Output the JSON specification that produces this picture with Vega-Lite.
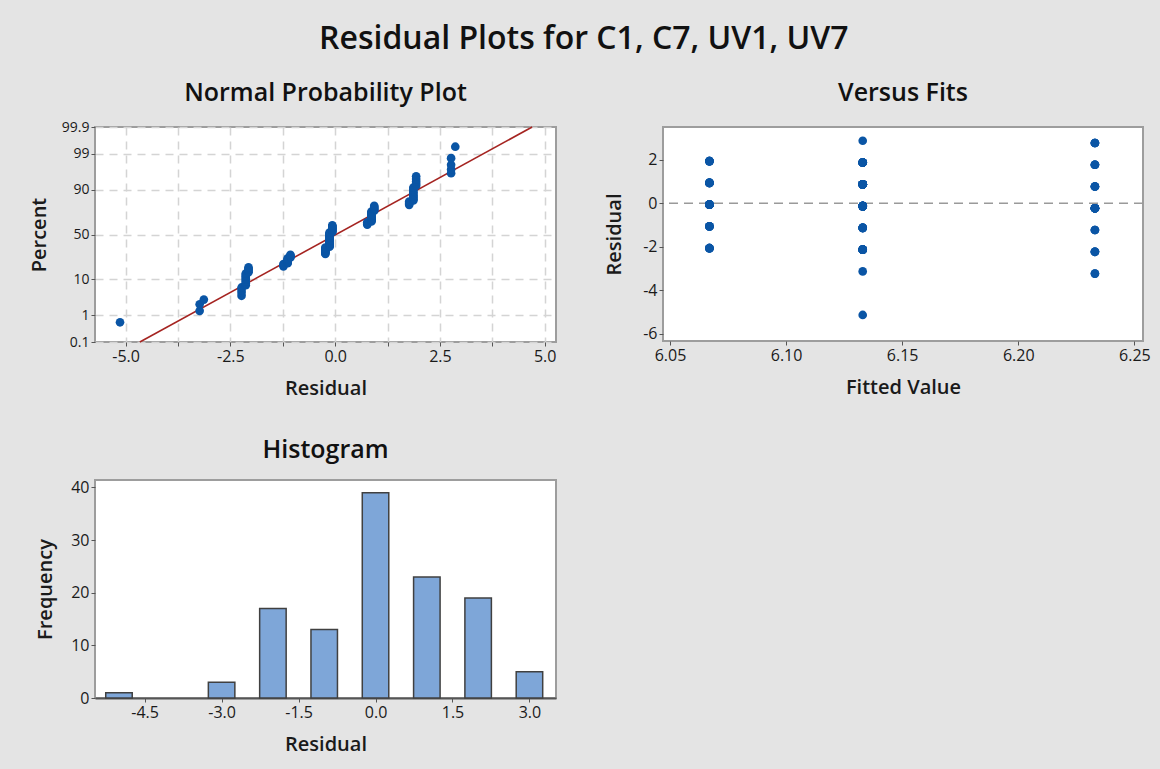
{
  "$schema": "https://vega.github.io/schema/vega-lite/v6.json",
  "background": "#e4e4e4",
  "padding": {"left": 28, "top": 23, "right": 12, "bottom": 15},
  "title": {"text": "Residual Plots for C1, C7, UV1, UV7", "fontSize": 32, "font": "Open Sans", "fontWeight": 600, "color": "#111111", "anchor": "middle", "offset": 24, "dx": -6},
  "config": {
    "font": "Open Sans",
    "locale": {"number": {"decimal": ".", "thousands": ",", "grouping": [3], "currency": ["$", ""], "minus": "-"}},
    "view": {"stroke": "#9d9d9d", "strokeWidth": 2, "fill": "white"},
    "axis": {"domain": false, "grid": false, "labelFont": "Open Sans", "labelFontSize": 16, "labelColor": "#1a1a1a", "labelOverlap": false, "titleFont": "Open Sans", "titleFontSize": 20, "titleFontWeight": 600, "titleColor": "#1a1a1a", "tickColor": "#555555", "tickSize": 4, "labelPadding": 2, "titlePadding": 14}
  },
  "datasets": {
    "npp": [
      {"r": -5.133, "p": 0.58, "f": 6.133},
      {"r": -3.233, "p": 1.41, "f": 6.233},
      {"r": -3.233, "p": 2.24, "f": 6.233},
      {"r": -3.133, "p": 3.07, "f": 6.133},
      {"r": -2.233, "p": 3.90, "f": 6.233},
      {"r": -2.233, "p": 4.73, "f": 6.233},
      {"r": -2.233, "p": 5.56, "f": 6.233},
      {"r": -2.233, "p": 6.40, "f": 6.233},
      {"r": -2.133, "p": 7.23, "f": 6.133},
      {"r": -2.133, "p": 8.06, "f": 6.133},
      {"r": -2.133, "p": 8.89, "f": 6.133},
      {"r": -2.133, "p": 9.72, "f": 6.133},
      {"r": -2.133, "p": 10.55, "f": 6.133},
      {"r": -2.133, "p": 11.38, "f": 6.133},
      {"r": -2.133, "p": 12.21, "f": 6.133},
      {"r": -2.133, "p": 13.04, "f": 6.133},
      {"r": -2.067, "p": 13.87, "f": 6.067},
      {"r": -2.067, "p": 14.70, "f": 6.067},
      {"r": -2.067, "p": 15.53, "f": 6.067},
      {"r": -2.067, "p": 16.36, "f": 6.067},
      {"r": -2.067, "p": 17.19, "f": 6.067},
      {"r": -1.233, "p": 18.02, "f": 6.233},
      {"r": -1.233, "p": 18.85, "f": 6.233},
      {"r": -1.233, "p": 19.68, "f": 6.233},
      {"r": -1.133, "p": 20.51, "f": 6.133},
      {"r": -1.133, "p": 21.35, "f": 6.133},
      {"r": -1.133, "p": 22.18, "f": 6.133},
      {"r": -1.133, "p": 23.01, "f": 6.133},
      {"r": -1.133, "p": 23.84, "f": 6.133},
      {"r": -1.133, "p": 24.67, "f": 6.133},
      {"r": -1.067, "p": 25.50, "f": 6.067},
      {"r": -1.067, "p": 26.33, "f": 6.067},
      {"r": -1.067, "p": 27.16, "f": 6.067},
      {"r": -1.067, "p": 27.99, "f": 6.067},
      {"r": -0.233, "p": 28.82, "f": 6.233},
      {"r": -0.233, "p": 29.65, "f": 6.233},
      {"r": -0.233, "p": 30.48, "f": 6.233},
      {"r": -0.233, "p": 31.31, "f": 6.233},
      {"r": -0.233, "p": 32.14, "f": 6.233},
      {"r": -0.233, "p": 32.97, "f": 6.233},
      {"r": -0.233, "p": 33.80, "f": 6.233},
      {"r": -0.233, "p": 34.63, "f": 6.233},
      {"r": -0.233, "p": 35.47, "f": 6.233},
      {"r": -0.133, "p": 36.30, "f": 6.133},
      {"r": -0.133, "p": 37.13, "f": 6.133},
      {"r": -0.133, "p": 37.96, "f": 6.133},
      {"r": -0.133, "p": 38.79, "f": 6.133},
      {"r": -0.133, "p": 39.62, "f": 6.133},
      {"r": -0.133, "p": 40.45, "f": 6.133},
      {"r": -0.133, "p": 41.28, "f": 6.133},
      {"r": -0.133, "p": 42.11, "f": 6.133},
      {"r": -0.133, "p": 42.94, "f": 6.133},
      {"r": -0.133, "p": 43.77, "f": 6.133},
      {"r": -0.133, "p": 44.60, "f": 6.133},
      {"r": -0.133, "p": 45.43, "f": 6.133},
      {"r": -0.133, "p": 46.26, "f": 6.133},
      {"r": -0.133, "p": 47.09, "f": 6.133},
      {"r": -0.133, "p": 47.92, "f": 6.133},
      {"r": -0.133, "p": 48.75, "f": 6.133},
      {"r": -0.133, "p": 49.58, "f": 6.133},
      {"r": -0.133, "p": 50.42, "f": 6.133},
      {"r": -0.133, "p": 51.25, "f": 6.133},
      {"r": -0.133, "p": 52.08, "f": 6.133},
      {"r": -0.067, "p": 52.91, "f": 6.067},
      {"r": -0.067, "p": 53.74, "f": 6.067},
      {"r": -0.067, "p": 54.57, "f": 6.067},
      {"r": -0.067, "p": 55.40, "f": 6.067},
      {"r": -0.067, "p": 56.23, "f": 6.067},
      {"r": -0.067, "p": 57.06, "f": 6.067},
      {"r": -0.067, "p": 57.89, "f": 6.067},
      {"r": -0.067, "p": 58.72, "f": 6.067},
      {"r": -0.067, "p": 59.55, "f": 6.067},
      {"r": -0.067, "p": 60.38, "f": 6.067},
      {"r": 0.767, "p": 61.21, "f": 6.233},
      {"r": 0.767, "p": 62.04, "f": 6.233},
      {"r": 0.767, "p": 62.87, "f": 6.233},
      {"r": 0.767, "p": 63.70, "f": 6.233},
      {"r": 0.867, "p": 64.53, "f": 6.133},
      {"r": 0.867, "p": 65.37, "f": 6.133},
      {"r": 0.867, "p": 66.20, "f": 6.133},
      {"r": 0.867, "p": 67.03, "f": 6.133},
      {"r": 0.867, "p": 67.86, "f": 6.133},
      {"r": 0.867, "p": 68.69, "f": 6.133},
      {"r": 0.867, "p": 69.52, "f": 6.133},
      {"r": 0.867, "p": 70.35, "f": 6.133},
      {"r": 0.867, "p": 71.18, "f": 6.133},
      {"r": 0.867, "p": 72.01, "f": 6.133},
      {"r": 0.867, "p": 72.84, "f": 6.133},
      {"r": 0.867, "p": 73.67, "f": 6.133},
      {"r": 0.867, "p": 74.50, "f": 6.133},
      {"r": 0.933, "p": 75.33, "f": 6.067},
      {"r": 0.933, "p": 76.16, "f": 6.067},
      {"r": 0.933, "p": 76.99, "f": 6.067},
      {"r": 0.933, "p": 77.82, "f": 6.067},
      {"r": 0.933, "p": 78.65, "f": 6.067},
      {"r": 0.933, "p": 79.49, "f": 6.067},
      {"r": 1.767, "p": 80.32, "f": 6.233},
      {"r": 1.767, "p": 81.15, "f": 6.233},
      {"r": 1.767, "p": 81.98, "f": 6.233},
      {"r": 1.767, "p": 82.81, "f": 6.233},
      {"r": 1.867, "p": 83.64, "f": 6.133},
      {"r": 1.867, "p": 84.47, "f": 6.133},
      {"r": 1.867, "p": 85.30, "f": 6.133},
      {"r": 1.867, "p": 86.13, "f": 6.133},
      {"r": 1.867, "p": 86.96, "f": 6.133},
      {"r": 1.867, "p": 87.79, "f": 6.133},
      {"r": 1.867, "p": 88.62, "f": 6.133},
      {"r": 1.867, "p": 89.45, "f": 6.133},
      {"r": 1.867, "p": 90.28, "f": 6.133},
      {"r": 1.867, "p": 91.11, "f": 6.133},
      {"r": 1.933, "p": 91.94, "f": 6.067},
      {"r": 1.933, "p": 92.77, "f": 6.067},
      {"r": 1.933, "p": 93.60, "f": 6.067},
      {"r": 1.933, "p": 94.44, "f": 6.067},
      {"r": 1.933, "p": 95.27, "f": 6.067},
      {"r": 2.767, "p": 96.10, "f": 6.233},
      {"r": 2.767, "p": 96.93, "f": 6.233},
      {"r": 2.767, "p": 97.76, "f": 6.233},
      {"r": 2.767, "p": 98.59, "f": 6.233},
      {"r": 2.867, "p": 99.42, "f": 6.133}
    ],
    "fitline": [
      {"r": -4.66, "p": 0.1},
      {"r": 4.70, "p": 99.9}
    ],
    "hist": [
      {"mid": -5, "count": 1},
      {"mid": -3, "count": 3},
      {"mid": -2, "count": 17},
      {"mid": -1, "count": 13},
      {"mid": 0, "count": 39},
      {"mid": 1, "count": 23},
      {"mid": 2, "count": 19},
      {"mid": 3, "count": 5}
    ]
  },
  "columns": 2,
  "spacing": {"row": 138, "column": 107},
  "bounds": "flush",
  "concat": [
    {
      "width": 461,
      "height": 215,
      "title": {"text": "Normal Probability Plot", "fontSize": 25, "fontWeight": 600, "font": "Open Sans", "color": "#111111", "offset": 21, "dy": 7},
      "layer": [
        {
          "data": {"name": "fitline"},
          "transform": [{"calculate": "quantileNormal(datum.p / 100)", "as": "z"}],
          "mark": {"type": "line", "color": "#a52421", "strokeWidth": 1.6},
          "encoding": {
            "x": {"field": "r", "type": "quantitative", "scale": {"domain": [-5.73, 5.27], "nice": false, "zero": false},
                  "axis": {"title": "Residual", "values": [-5, -3.75, -2.5, -1.25, 0, 1.25, 2.5, 3.75, 5], "tickCount": 20, "grid": true, "gridColor": "#d4d4d4", "gridDash": [8, 6], "gridWidth": 1.5,
                           "labelExpr": "abs(datum.value % 2.5) < 0.01 ? format(datum.value, '.1f') : ''"}},
            "y": {"field": "z", "type": "quantitative", "scale": {"domain": [-3.0902, 3.0902], "nice": false, "zero": false},
                  "axis": {"title": "Percent", "titlePadding": 12, "values": [-3.0902, -2.3263, -1.2816, 0, 1.2816, 2.3263, 3.0902], "tickCount": 20, "grid": true, "gridColor": "#d4d4d4", "gridDash": [8, 6], "gridWidth": 1.5, "labelFontSize": 14,
                           "labelExpr": "datum.value < -3 ? '0.1' : datum.value < -2 ? '1' : datum.value < -1 ? '10' : datum.value < 1 ? '50' : datum.value < 2 ? '90' : datum.value < 3 ? '99' : '99.9'"}}
          }
        },
        {
          "data": {"name": "npp"},
          "transform": [{"calculate": "quantileNormal(datum.p / 100)", "as": "z"}],
          "mark": {"type": "circle", "size": 75, "color": "#0a55a5", "opacity": 1},
          "encoding": {
            "x": {"field": "r", "type": "quantitative"},
            "y": {"field": "z", "type": "quantitative"}
          }
        }
      ]
    },
    {
      "width": 480,
      "height": 214,
      "title": {"text": "Versus Fits", "fontSize": 25, "fontWeight": 600, "font": "Open Sans", "color": "#111111", "offset": 21},
      "layer": [
        {
          "data": {"values": [{"ref": 0}]},
          "mark": {"type": "rule", "color": "#9a9a9a", "strokeDash": [9, 6], "strokeWidth": 1.5},
          "encoding": {"y": {"field": "ref", "type": "quantitative"}}
        },
        {
          "data": {"name": "npp"},
          "mark": {"type": "circle", "size": 75, "color": "#0a55a5", "opacity": 1},
          "encoding": {
            "x": {"field": "f", "type": "quantitative", "scale": {"domain": [6.047, 6.2537], "nice": false, "zero": false},
                  "axis": {"title": "Fitted Value", "values": [6.05, 6.1, 6.15, 6.2, 6.25], "tickCount": 20, "format": ".2f"}},
            "y": {"field": "r", "type": "quantitative", "scale": {"domain": [-6.33, 3.5], "nice": false, "zero": false},
                  "axis": {"title": "Residual", "titlePadding": 18, "values": [-6, -4, -2, 0, 2], "tickCount": 20, "format": "d"}}
          }
        }
      ]
    },
    {
      "width": 461,
      "height": 218,
      "title": {"text": "Histogram", "fontSize": 25, "fontWeight": 600, "font": "Open Sans", "color": "#111111", "offset": 16},
      "data": {"name": "hist"},
      "mark": {"type": "bar", "width": 26.5, "fill": "#7ea6d8", "stroke": "#404040", "strokeWidth": 1.5},
      "encoding": {
        "x": {"field": "mid", "type": "quantitative", "scale": {"domain": [-5.37, 3.42], "nice": false, "zero": false},
              "axis": {"title": "Residual", "values": [-4.5, -3, -1.5, 0, 1.5, 3], "tickCount": 20, "format": ".1f", "domain": true, "domainColor": "#555555", "domainWidth": 2}},
        "y": {"field": "count", "type": "quantitative", "scale": {"domain": [0, 41.4], "nice": false},
              "axis": {"title": "Frequency", "titlePadding": 15, "values": [0, 10, 20, 30, 40], "tickCount": 20, "format": "d"}}
      }
    }
  ]
}
